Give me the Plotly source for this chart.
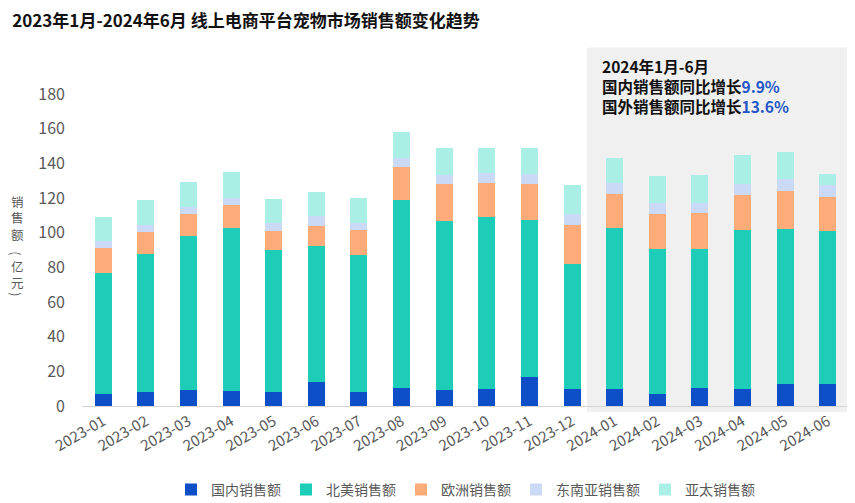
import plotly.graph_objects as go

months = ["2023-01","2023-02","2023-03","2023-04","2023-05","2023-06","2023-07","2023-08","2023-09",
          "2023-10","2023-11","2023-12","2024-01","2024-02","2024-03","2024-04","2024-05","2024-06"]
domestic = [7.0, 8.2, 9.2, 8.6, 8.2, 14.0, 8.2, 10.2, 9.2, 9.6, 16.9, 9.6, 9.6, 7.1, 10.2, 9.6, 12.5, 12.8]
north_america = [70.0, 79.5, 88.9, 94.1, 81.8, 78.4, 79.0, 108.5, 97.5, 99.7, 90.4, 72.6, 92.9, 83.7, 80.4, 92.0, 89.6, 88.4]
europe = [14.0, 12.5, 12.7, 13.3, 11.0, 11.5, 14.4, 19.3, 21.3, 19.5, 20.7, 22.2, 20.0, 20.0, 20.6, 20.3, 22.1, 19.4]
southeast_asia = [4.0, 4.5, 4.0, 4.2, 4.6, 5.5, 4.0, 5.2, 5.4, 5.6, 6.0, 6.2, 6.4, 6.1, 6.1, 6.4, 7.0, 7.1]
asia_pacific = [14.0, 14.0, 14.2, 14.6, 14.0, 14.0, 14.6, 14.6, 15.4, 14.4, 14.8, 16.7, 14.3, 15.6, 15.9, 16.5, 15.3, 6.1]

series = [
    ("国内销售额", domestic, "#0E4FC8"),
    ("北美销售额", north_america, "#1ECDB8"),
    ("欧洲销售额", europe, "#FDAB78"),
    ("东南亚销售额", southeast_asia, "#C9D9F6"),
    ("亚太销售额", asia_pacific, "#A9EFE5"),
]

# y-axis title pieces (drawn vertically)
ytitle_parts = ["销<br>售<br>额", "(", "亿<br>元", ")"]

FONT = "Microsoft YaHei, Noto Sans CJK SC, sans-serif"

W, H = 847, 495
ML, MR, MT, MB = 74, 6, 85.5, 97
PW, PH = W - ML - MR, H - MT - MB

def px_x(x):  # figure pixel -> paper
    return (x - ML) / PW

def px_y(y):
    return (H - MB - y) / PH

fig = go.Figure()
for name, vals, color in series:
    fig.add_trace(go.Bar(x=months, y=vals, name=name, marker=dict(color=color, line=dict(width=0))))

fig.update_layout(
    barmode="stack",
    bargap=0.6,
    width=W, height=H,
    margin=dict(l=ML, r=MR, t=MT, b=MB, autoexpand=False),
    paper_bgcolor="white",
    plot_bgcolor="rgba(0,0,0,0)",
    font=dict(family=FONT, color="#595959"),
    title=dict(text="<b>2023年1月-2024年6月 线上电商平台宠物市场销售额变化趋势</b>",
               x=0.005, xanchor="left", y=0.974, yanchor="middle",
               font=dict(size=17, color="#111111", family=FONT)),
    showlegend=True,
    legend=dict(orientation="h", x=0.5, xanchor="center", y=px_y(482), yanchor="middle",
                font=dict(size=14, color="#595959"), traceorder="normal",
                itemwidth=30, itemsizing="constant"),
    xaxis=dict(type="category", showgrid=False, showline=True, linecolor="#D4D4D4", linewidth=1,
               tickangle=-30, tickfont=dict(size=15, color="#595959"), ticks="", automargin=False),
    yaxis=dict(range=[0, 180], dtick=20, showgrid=False, zeroline=False, showline=False,
               tickfont=dict(size=16, color="#595959"), ticklabelstandoff=16, automargin=False),
)

# highlight region for 2024 H1
fig.add_shape(type="rect", xref="x", yref="paper", x0=11.35, x1=17.45, y0=px_y(404), y1=px_y(39),
              fillcolor="#F0F0F0", line=dict(width=0), layer="below")
# small cropped strip at right edge
fig.add_shape(type="rect", xref="paper", yref="paper", x0=px_x(843), x1=px_x(847), y0=px_y(170), y1=px_y(104),
              fillcolor="#C8F3EE", line=dict(width=0), layer="below")

fig.add_annotation(xref="paper", yref="paper", x=px_x(592), y=px_y(44), xanchor="left", yanchor="top",
                   align="left", showarrow=False,
                   text=("<b>2024年1月-6月</b><br>"
                         "<b>国内销售额同比增长<span style='color:#2457C5'>9.9%</span></b><br>"
                         "<b>国外销售额同比增长<span style='color:#2457C5'>13.6%</span></b>"),
                   font=dict(size=15.5, color="#111111", family=FONT))

ytitle_pos = [210, 245, 266.5, 286]
for part, yp in zip(ytitle_parts, ytitle_pos):
    fig.add_annotation(xref="paper", yref="paper", x=px_x(9), y=px_y(yp), xanchor="center", yanchor="middle",
                       showarrow=False, text=part, textangle=90 if part in "()" else 0,
                       borderpad=0,
                       font=dict(size=12.5, color="#595959", family=FONT))

fig.write_html("out.html")
